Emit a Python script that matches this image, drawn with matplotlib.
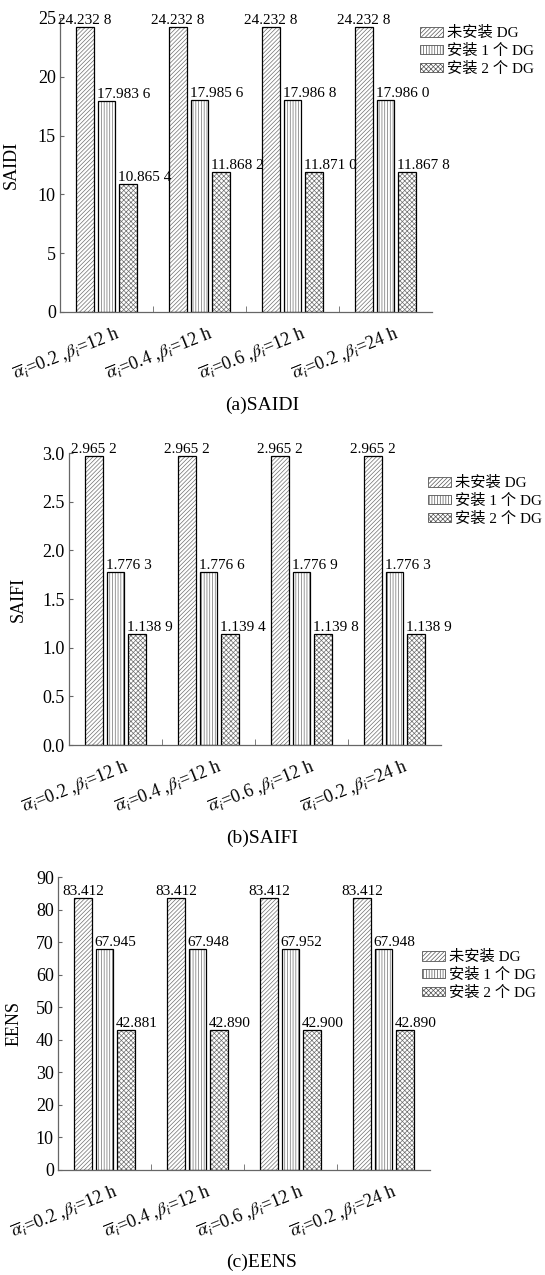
import numpy as np
import matplotlib
matplotlib.use("Agg")
import matplotlib.pyplot as plt
from matplotlib.patches import Patch
from matplotlib.transforms import ScaledTranslation

plt.rcParams['font.family'] = ['Liberation Serif', 'Noto Sans CJK SC']
plt.rcParams['mathtext.fontset'] = 'stix'
plt.rcParams['hatch.linewidth'] = 0.5

cases = [r'$\overline{\alpha}_i$=0.2 ,$\beta_i$=12 h',
         r'$\overline{\alpha}_i$=0.4 ,$\beta_i$=12 h',
         r'$\overline{\alpha}_i$=0.6 ,$\beta_i$=12 h',
         r'$\overline{\alpha}_i$=0.2 ,$\beta_i$=24 h']
series_names = ['未安装 DG', '安装 1 个 DG', '安装 2 个 DG']

saidi_no = [24.2328, 24.2328, 24.2328, 24.2328]
saidi_1 = [17.9836, 17.9856, 17.9868, 17.9860]
saidi_2 = [10.8654, 11.8682, 11.8710, 11.8678]

saifi_no = [2.9652, 2.9652, 2.9652, 2.9652]
saifi_1 = [1.7763, 1.7766, 1.7769, 1.7763]
saifi_2 = [1.1389, 1.1394, 1.1398, 1.1389]

eens_no = [83.412, 83.412, 83.412, 83.412]
eens_1 = [67.945, 67.948, 67.952, 67.948]
eens_2 = [42.881, 42.890, 42.900, 42.890]

hatches = ['////////', '||||||', 'xxxxxxx']


def fmt4(v):
    s = f"{v:.4f}"
    return s[:-1] + " " + s[-1]


def fmt3(v):
    return f"{v:.3f}"


W, H = 545, 1275
fig = plt.figure(figsize=(W / 100, H / 100), dpi=100)

# (left px, top px, bottom px), legend (left px, top px), ylabel x offset, caption y px
panels = [
    dict(box=(60, 18, 312), leg=(420, 26), ylx=-0.107, cap=405,
         data=(saidi_no, saidi_1, saidi_2), fmt=fmt4, ylabel='SAIDI',
         ylim=(0, 25), yticks=np.arange(0, 26, 5), tfmt='{:.0f}', caption='(a)SAIDI'),
    dict(box=(69, 453, 745), leg=(428, 476), ylx=-0.113, cap=838,
         data=(saifi_no, saifi_1, saifi_2), fmt=fmt4, ylabel='SAIFI',
         ylim=(0, 3.0), yticks=np.arange(0, 3.01, 0.5), tfmt='{:.1f}', caption='(b)SAIFI'),
    dict(box=(58, 877, 1170), leg=(422, 950), ylx=-0.095, cap=1262,
         data=(eens_no, eens_1, eens_2), fmt=fmt3, ylabel='EENS',
         ylim=(0, 90), yticks=np.arange(0, 91, 10), tfmt='{:.0f}', caption='(c)EENS'),
]

x = np.arange(len(cases))
offsets = [-0.23, 0.0, 0.23]
bw = 0.19
axis_w = 372

for p in panels:
    left, top, bottom = p['box']
    ax = fig.add_axes([left / W, 1 - bottom / H, axis_w / W, (bottom - top) / H])
    for k, vals in enumerate(p['data']):
        # grey hatch fill, then black outline on top
        ax.bar(x + offsets[k], vals, width=bw, facecolor='white',
               edgecolor='#707070', linewidth=0, hatch=hatches[k])
        bars = ax.bar(x + offsets[k], vals, width=bw, facecolor='none',
                      edgecolor='black', linewidth=0.9)
        for b, v in zip(bars, vals):
            if k == 0:
                ax.text(b.get_x() + b.get_width() / 2, v, p['fmt'](v), ha='center',
                        va='bottom', fontsize=11, clip_on=False)
            else:
                ax.text(b.get_x() - 0.01, v, p['fmt'](v), ha='left',
                        va='bottom', fontsize=11, clip_on=False)

    ax.set_xlim(-0.5, 3.5)
    ax.set_ylim(*p['ylim'])
    ax.set_yticks(p['yticks'])
    ax.set_yticklabels([p['tfmt'].format(t) for t in p['yticks']], fontsize=13)
    ax.set_xticks(x)
    ax.set_xticklabels(cases, fontsize=13, rotation=22, ha='right', va='top',
                       rotation_mode='anchor')
    ax.set_xticks([0.5, 1.5, 2.5], minor=True)
    ax.tick_params(axis='x', which='major', length=0, pad=8)
    ax.tick_params(axis='x', which='minor', direction='in', length=4, color='#666666')
    ax.tick_params(axis='y', direction='in', length=3, color='#666666', pad=3)
    for lab in ax.get_xticklabels():
        lab.set_transform(lab.get_transform() + ScaledTranslation(0.08, 0, fig.dpi_scale_trans))
    for s in ['top', 'right']:
        ax.spines[s].set_visible(False)
    for s in ['left', 'bottom']:
        ax.spines[s].set_color('#666666')
        ax.spines[s].set_linewidth(0.9)

    ax.set_ylabel(p['ylabel'], fontsize=13)
    ax.yaxis.set_label_coords(p['ylx'], 0.5)

    handles = [Patch(facecolor='white', edgecolor='#555555', linewidth=0.6, hatch=h)
               for h in hatches]
    lx, ly = p['leg']
    ax.legend(handles, series_names, loc='upper left',
              bbox_to_anchor=(lx / W, 1 - ly / H), bbox_transform=fig.transFigure,
              frameon=False, fontsize=11, borderpad=0, borderaxespad=0,
              handlelength=1.5, handleheight=0.6, handletextpad=0.25, labelspacing=0.25)

    fig.text(262 / W, 1 - p['cap'] / H, p['caption'], ha='center', va='center', fontsize=14)

fig.savefig("out.png", dpi=100)
